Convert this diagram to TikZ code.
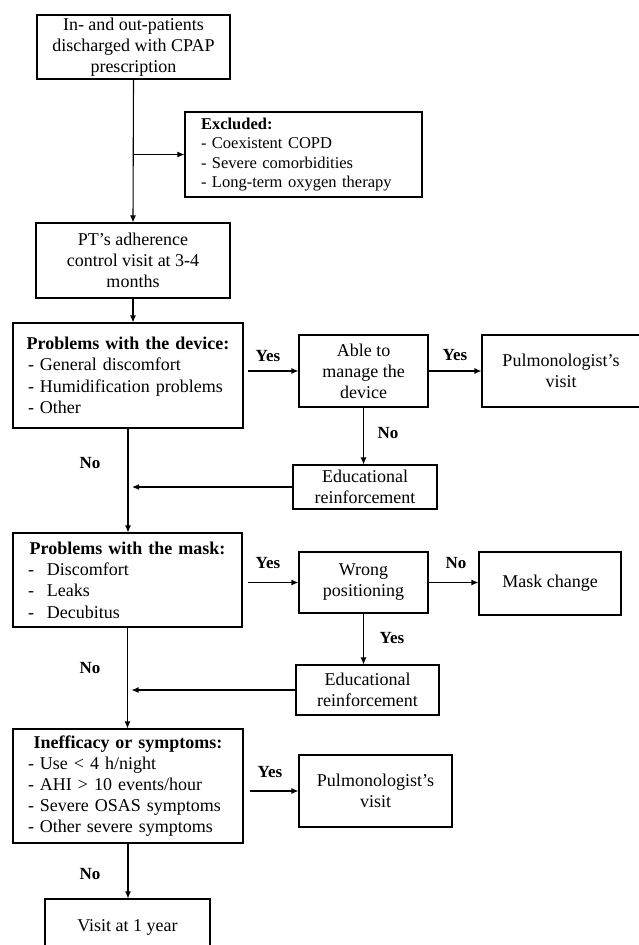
\documentclass[tikz,border=0pt]{standalone}
\usepackage{fontspec}
\setmainfont{Liberation Serif}
\usetikzlibrary{arrows.meta,calc}
\newcommand{\hd}[2]{\makebox[#1][c]{\textbf{#2}}}
\newcommand{\itm}[1]{\makebox[19pt][l]{-}#1}
\begin{document}
\begin{tikzpicture}[x=1pt,y=-1pt,
  box/.style={draw,line width=1.1pt,inner sep=0pt,align=center,font=\fontsize{18}{21}\selectfont},
  lbox/.style={box,align=left,inner xsep=15pt,text width=200pt},
  lab/.style={font=\fontsize{17}{20}\selectfont\bfseries,inner sep=0pt},
  conn/.style={line width=1.1pt},
  arr/.style={conn,-{Latex[length=7pt,width=6pt]}}]
\useasboundingbox (0,0) rectangle (638,945);

\node[box,minimum width=193pt,minimum height=64pt] (start) at (133.5,47) {In- and out-patients\\discharged with CPAP\\prescription};
\node[box,align=left,inner xsep=16pt,text width=205pt,minimum height=85pt,font=\fontsize{16.5}{19.5}\selectfont] (excl) at (303.5,154.5) {\textbf{Excluded:}\\- Coexistent COPD\\- Severe comorbidities\\- Long-term oxygen therapy};
\node[box,minimum width=194pt,minimum height=75pt] (pt) at (133,260.5) {PT’s adherence\\control visit at 3-4\\months};

\node[lbox,minimum height=105pt,font=\fontsize{18}{21.5}\selectfont] (dev) at (128,375.5) {\hd{200pt}{Problems with the device:}\\- General discomfort\\- Humidification problems\\- Other};
\node[box,minimum width=129pt,minimum height=72pt] (able) at (363.5,371) {Able to\\manage the\\device};
\node[box,minimum width=158pt,minimum height=72pt] (pulm1) at (561,371) {Pulmonologist’s\\visit};
\node[box,minimum width=144pt,minimum height=44pt] (edu1) at (365,487) {Educational\\reinforcement};

\node[lbox,text width=199pt,minimum height=94pt,font=\fontsize{18}{21.3}\selectfont] (maskp) at (127.5,580) {\hd{199pt}{Problems with the mask:}\\\itm{Discomfort}\\\itm{Leaks}\\\itm{Decubitus}};
\node[box,minimum width=129pt,minimum height=61pt] (wrong) at (363.5,582.5) {Wrong\\positioning};
\node[box,minimum width=142pt,minimum height=63pt] (mchange) at (550,583.5) {Mask change};
\node[box,minimum width=143pt,minimum height=50pt] (edu2) at (367.5,690) {Educational\\reinforcement};

\node[lbox,minimum height=114pt] (ineff) at (128,786) {\hd{200pt}{Inefficacy or symptoms:}\\- Use < 4 h/night\\- AHI > 10 events/hour\\- Severe OSAS symptoms\\- Other severe symptoms};
\node[box,minimum width=153pt,minimum height=72pt] (pulm2) at (375.5,791) {Pulmonologist’s\\visit};
\node[box,minimum width=165pt,minimum height=56pt] (visit) at (127.5,927) {Visit at 1 year};

\coordinate (br) at (start.south |- excl.west);
\draw[arr] (start.south) -- (pt.north);
\draw[arr] (br) -- (excl.west);
\draw[arr] (pt.south) -- (pt.south |- dev.north);
\draw[arr,shorten <=4pt] (dev.east |- able.west) -- (able.west);
\draw[arr] (able.east) -- (pulm1.west);
\draw[arr] (able.south) -- (able.south |- edu1.north);
\draw[arr] (dev.south) -- (dev.south |- maskp.north);
\draw[arr,shorten >=4pt] (edu1.west) -- (dev.south |- edu1.west);
\draw[arr,shorten <=5pt] (maskp.east |- wrong.west) -- (wrong.west);
\draw[arr] (wrong.east) -- (wrong.east -| mchange.west);
\draw[arr] (wrong.south) -- (wrong.south |- edu2.north);
\draw[arr] (maskp.south) -- (maskp.south |- ineff.north);
\draw[arr,shorten >=4pt] (edu2.west) -- (maskp.south |- edu2.west);
\draw[arr,shorten <=6pt] (ineff.east |- pulm2.west) -- (pulm2.west);
\draw[arr] (ineff.south) -- (ineff.south |- visit.north);

\node[lab] (l1) at (268,356) {Yes};
\node[lab] (l2) at (455,355) {Yes};
\node[lab] (l3) at (388,433) {No};
\node[lab] (l4) at (90,463) {No};
\node[lab] (l5) at (268,563) {Yes};
\node[lab] (l6) at (456,563) {No};
\node[lab] (l7) at (392,638) {Yes};
\node[lab] (l8) at (90,668) {No};
\node[lab] (l9) at (270,772) {Yes};
\node[lab] (l10) at (90,874) {No};
\end{tikzpicture}
\end{document}
